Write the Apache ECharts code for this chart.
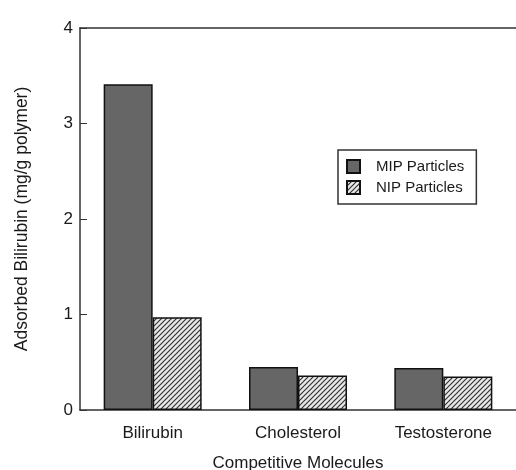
<!DOCTYPE html>
<html><head><meta charset="utf-8">
<script src="https://cdn.jsdelivr.net/npm/echarts@6/dist/echarts.min.js"></script>
<style>html,body{margin:0;padding:0;background:#fff}#c{width:516px;height:470px}</style>
</head><body><div id="c"></div>
<script>
var categories = ['Bilirubin', 'Cholesterol', 'Testosterone'];
var mipValues = [3.41, 0.45, 0.44];
var nipValues = [0.97, 0.36, 0.35];
var yTicks = [0, 1, 2, 3, 4];

function hatch() {
  var c = document.createElement('canvas');
  c.width = 5; c.height = 5;
  var g = c.getContext('2d');
  g.fillStyle = '#e8e8e8'; g.fillRect(0, 0, 5, 5);
  g.strokeStyle = '#333'; g.lineWidth = 1.2;
  g.beginPath();
  g.moveTo(-1, 6); g.lineTo(6, -1);
  g.moveTo(-1, 1); g.lineTo(1, -1);
  g.moveTo(4, 6); g.lineTo(6, 4);
  g.stroke();
  return c;
}
var font = 'Liberation Sans, Arial, Helvetica, sans-serif';
var txt = '#1a1a1a';
var chart = echarts.init(document.getElementById('c'), null, {renderer: 'canvas'});
chart.setOption({
  animation: false,
  textStyle: {fontFamily: font},
  grid: {left: 80, right: 0, top: 28, bottom: 60, containLabel: false, outerBoundsMode: 'none'},
  legend: {
    orient: 'vertical', left: 338, top: 150,
    padding: [9, 12, 9, 8], itemGap: 6, itemWidth: 13, itemHeight: 13,
    borderColor: '#333', borderWidth: 1.5,
    textStyle: {fontSize: 15, color: txt, fontFamily: font, padding: [0, 0, 0, 11]},
    data: [{name: 'MIP Particles', icon: 'rect'}, {name: 'NIP Particles', icon: 'rect'}]
  },
  xAxis: [{
    type: 'category', data: categories,
    axisLine: {lineStyle: {color: '#333', width: 1.5}},
    axisTick: {show: false},
    axisLabel: {fontSize: 17, color: txt, margin: 15, fontFamily: font},
    name: 'Competitive Molecules', nameLocation: 'middle', nameGap: 45,
    nameTextStyle: {fontSize: 17, color: txt, fontFamily: font}
  }, {
    type: 'category', data: categories, position: 'top',
    axisLine: {lineStyle: {color: '#333', width: 1.5}},
    axisTick: {show: false}, axisLabel: {show: false}
  }],
  yAxis: {
    type: 'value', min: yTicks[0], max: yTicks[yTicks.length - 1], interval: 1,
    splitLine: {show: false},
    axisLine: {show: true, lineStyle: {color: '#333', width: 1.5}},
    axisTick: {show: true, inside: true, length: 7, lineStyle: {color: '#333', width: 1}},
    axisLabel: {fontSize: 17, color: txt, margin: 7, fontFamily: font},
    name: 'Adsorbed Bilirubin (mg/g polymer)', nameLocation: 'middle', nameGap: 49,
    nameTextStyle: {fontSize: 17.5, color: txt, fontFamily: font}
  },
  series: [{
    name: 'MIP Particles', type: 'bar', data: mipValues,
    barWidth: 49, barGap: '0%',
    itemStyle: {color: '#666666', borderColor: '#111', borderWidth: 1.5}
  }, {
    name: 'NIP Particles', type: 'bar', data: nipValues,
    barWidth: 49,
    itemStyle: {color: {image: hatch(), repeat: 'repeat'}, borderColor: '#111', borderWidth: 1.5}
  }]
});
</script></body></html>
